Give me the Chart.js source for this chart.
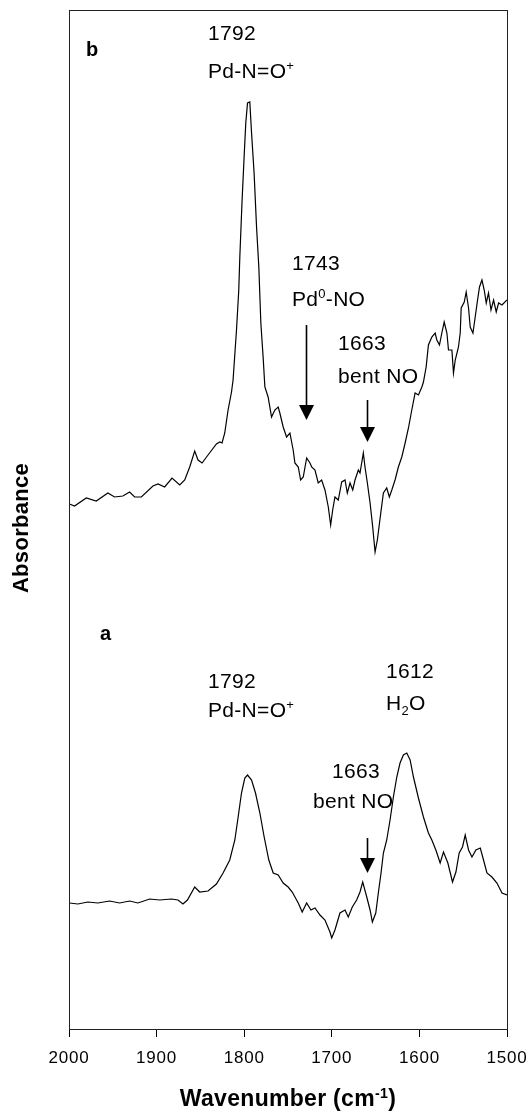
<!DOCTYPE html>
<html><head><meta charset="utf-8">
<script src="https://cdn.jsdelivr.net/npm/chart.js@4"></script>
<style>html,body{margin:0;padding:0;background:#fff}</style>
</head><body>
<canvas id="c" width="528" height="1112"></canvas>
<script>
// Spectrum b (upper trace): wavenumber (cm-1) and absorbance (a.u.)
const wavenumbersB = [1999.4,1993.7,1980.3,1968.9,1955.6,1948.0,1938.5,1930.8,1925.1,1917.4,1904.2,1898.4,1890.8,1882.4,1873.6,1867.9,1862.2,1856.5,1852.7,1848.1,1841.3,1831.7,1827.9,1825.3,1822.2,1818.4,1814.5,1812.7,1808.8,1806.2,1805.0,1802.4,1800.1,1798.2,1796.2,1793.6,1791.6,1788.7,1785.9,1783.3,1781.0,1778.4,1776.4,1772.7,1768.8,1765.0,1761.2,1759.3,1755.5,1751.6,1747.8,1744.1,1742.1,1738.3,1735.6,1732.6,1728.7,1724.9,1723.0,1719.2,1715.5,1711.6,1707.8,1704.0,1701.3,1699.0,1696.4,1692.6,1688.7,1684.9,1682.3,1679.2,1676.1,1673.5,1669.7,1667.8,1664.0,1662.1,1659.4,1656.3,1653.3,1650.6,1648.0,1644.1,1641.1,1637.3,1634.3,1631.5,1627.8,1624.0,1620.1,1616.3,1612.5,1608.7,1604.9,1601.1,1597.2,1595.4,1592.3,1589.7,1585.8,1582.0,1580.1,1577.1,1574.4,1571.7,1568.6,1566.8,1562.9,1561.1,1559.1,1555.4,1553.4,1552.3,1548.8,1546.6,1543.9,1542.0,1538.9,1536.3,1533.6,1531.4,1528.6,1526.0,1523.7,1521.1,1518.3,1515.3,1512.3,1509.6,1505.7,1500.0];
const absorbanceB = [0.525,0.523,0.531,0.528,0.536,0.532,0.533,0.537,0.532,0.532,0.543,0.545,0.542,0.551,0.544,0.549,0.562,0.578,0.569,0.566,0.574,0.585,0.587,0.586,0.596,0.619,0.637,0.649,0.699,0.739,0.772,0.829,0.872,0.906,0.926,0.927,0.896,0.856,0.802,0.762,0.706,0.672,0.642,0.632,0.612,0.619,0.622,0.616,0.602,0.592,0.596,0.579,0.566,0.562,0.549,0.552,0.571,0.566,0.562,0.559,0.546,0.549,0.539,0.522,0.504,0.519,0.532,0.529,0.547,0.549,0.536,0.546,0.539,0.549,0.559,0.556,0.576,0.562,0.546,0.526,0.502,0.477,0.489,0.516,0.536,0.541,0.532,0.539,0.549,0.562,0.572,0.586,0.601,0.619,0.636,0.634,0.642,0.647,0.662,0.684,0.692,0.696,0.689,0.684,0.696,0.707,0.696,0.679,0.679,0.656,0.669,0.682,0.696,0.721,0.727,0.737,0.721,0.702,0.696,0.712,0.729,0.742,0.749,0.739,0.726,0.736,0.719,0.729,0.717,0.726,0.724,0.729];

// Spectrum a (lower trace)
const wavenumbersA = [1999.4,1989.9,1978.5,1967.1,1953.7,1942.2,1930.8,1921.3,1907.9,1896.5,1883.1,1875.6,1869.9,1864.8,1856.5,1850.8,1841.3,1831.7,1824.1,1816.5,1810.7,1806.9,1803.1,1799.3,1796.2,1791.6,1787.1,1782.1,1777.2,1771.9,1766.9,1761.2,1755.5,1749.8,1745.2,1738.3,1733.8,1728.7,1723.8,1719.2,1713.5,1707.8,1702.1,1700.1,1696.4,1690.7,1684.9,1681.2,1676.6,1671.6,1667.8,1664.7,1660.1,1656.3,1653.7,1649.8,1646.9,1643.8,1641.1,1637.3,1633.5,1629.7,1625.8,1622.1,1618.3,1614.4,1610.6,1606.8,1601.1,1595.4,1589.7,1585.8,1581.2,1576.3,1572.5,1567.5,1562.2,1558.3,1554.6,1550.8,1547.7,1543.9,1540.0,1535.5,1530.5,1526.8,1522.9,1517.2,1511.5,1505.7,1500.0];
const absorbanceA = [0.126,0.125,0.127,0.126,0.128,0.126,0.128,0.126,0.130,0.129,0.130,0.129,0.125,0.129,0.142,0.137,0.138,0.145,0.156,0.169,0.189,0.212,0.236,0.251,0.254,0.249,0.236,0.216,0.192,0.169,0.156,0.154,0.146,0.142,0.137,0.126,0.117,0.126,0.119,0.121,0.114,0.109,0.097,0.091,0.099,0.116,0.119,0.112,0.122,0.129,0.137,0.147,0.132,0.119,0.107,0.116,0.136,0.156,0.176,0.189,0.209,0.232,0.252,0.266,0.274,0.276,0.269,0.252,0.231,0.212,0.196,0.189,0.179,0.166,0.177,0.166,0.147,0.157,0.176,0.182,0.194,0.179,0.172,0.179,0.181,0.169,0.156,0.152,0.146,0.136,0.134];

const xTickValues = [2000,1900,1800,1700,1600,1500];
const xTitleParts = [{t:'Wavenumber (cm'},{t:'-1',sup:true},{t:')'}];
const yTitle = 'Absorbance';

// Annotations, anchored in data units (wavenumber, absorbance)
const labelTexts = [
  {wn:1980.6, a:0.973, parts:[{t:'b'}], bold:true},
  {wn:1841.3, a:0.989, parts:[{t:'1792'}]},
  {wn:1841.3, a:0.951, parts:[{t:'Pd-N=O'},{t:'+',sup:true}]},
  {wn:1745.4, a:0.759, parts:[{t:'1743'}]},
  {wn:1745.4, a:0.723, parts:[{t:'Pd'},{t:'0',sup:true},{t:'-NO'}]},
  {wn:1692.9, a:0.679, parts:[{t:'1663'}]},
  {wn:1692.9, a:0.646, parts:[{t:'bent NO'}]},
  {wn:1964.6, a:0.389, parts:[{t:'a'}], bold:true},
  {wn:1841.3, a:0.341, parts:[{t:'1792'}]},
  {wn:1841.3, a:0.312, parts:[{t:'Pd-N=O'},{t:'+',sup:true}]},
  {wn:1638.1, a:0.351, parts:[{t:'1612'}]},
  {wn:1638.1, a:0.319, parts:[{t:'H'},{t:'2',sub:true},{t:'O'}]},
  {wn:1699.8, a:0.251, parts:[{t:'1663'}]},
  {wn:1721.5, a:0.221, parts:[{t:'bent NO'}]}
];
const arrowWn   = [1729.4, 1659.8, 1659.8];
const arrowFrom = [0.704, 0.629, 0.191];
const arrowTo   = [0.609, 0.587, 0.156];

const FONT = '"Liberation Sans", Arial, Helvetica, sans-serif';

function partsWidth(ctx, parts, size, bold){
  let w = 0;
  for (const p of parts){
    const s = (p.sup||p.sub) ? size*0.62 : size;
    ctx.font = (bold?'bold ':'') + s + 'px ' + FONT;
    w += ctx.measureText(p.t).width;
  }
  return w;
}
function drawParts(ctx, x, y, parts, size, bold){
  let cx = x;
  for (const p of parts){
    const s = (p.sup||p.sub) ? size*0.62 : size;
    ctx.font = (bold?'bold ':'') + s + 'px ' + FONT;
    const dy = p.sup ? -size*0.36 : (p.sub ? size*0.22 : 0);
    ctx.fillText(p.t, cx, y+dy);
    cx += ctx.measureText(p.t).width;
  }
}

const decorPlugin = {
  id:'decor',
  beforeDraw(chart){ chart.ctx.letterSpacing = '0.8px'; },
  afterDraw(chart){
    const {ctx, chartArea:ca, scales:{x, y}} = chart;
    ctx.save();
    ctx.letterSpacing = '0.3px';
    // frame
    ctx.strokeStyle = '#222';
    ctx.lineWidth = 1;
    ctx.strokeRect(Math.round(ca.left)+0.5, Math.round(ca.top)+0.5, Math.round(ca.right-ca.left), Math.round(ca.bottom-ca.top));
    ctx.fillStyle = '#000';
    ctx.textAlign = 'left';
    ctx.textBaseline = 'alphabetic';
    // annotation labels
    for (const L of labelTexts){
      drawParts(ctx, x.getPixelForValue(L.wn), y.getPixelForValue(L.a), L.parts, L.bold ? 20 : 21, !!L.bold);
    }
    // arrows
    ctx.strokeStyle = '#000';
    ctx.lineWidth = 1.6;
    for (let i=0;i<arrowWn.length;i++){
      const px = Math.round(x.getPixelForValue(arrowWn[i]))+0.5;
      const y0 = y.getPixelForValue(arrowFrom[i]);
      const y1 = y.getPixelForValue(arrowTo[i]);
      ctx.beginPath(); ctx.moveTo(px, y0); ctx.lineTo(px, y1-12); ctx.stroke();
      ctx.beginPath(); ctx.moveTo(px-7.5, y1-15); ctx.lineTo(px+7.5, y1-15); ctx.lineTo(px, y1); ctx.closePath(); ctx.fill();
    }
    // x title
    const ts = 23;
    const tw = partsWidth(ctx, xTitleParts, ts, true);
    drawParts(ctx, (ca.left+ca.right)/2 - tw/2, 1106, xTitleParts, ts, true);
    // y title
    ctx.save();
    ctx.translate(28, 528);
    ctx.rotate(-Math.PI/2);
    ctx.font = 'bold 22px ' + FONT;
    ctx.textAlign = 'center';
    ctx.fillText(yTitle, 0, 0);
    ctx.restore();
    ctx.restore();
  }
};

new Chart(document.getElementById('c'), {
  type:'line',
  data:{datasets:[
    {data: wavenumbersB.map((v,i)=>({x:v, y:absorbanceB[i]})), borderColor:'#000', borderWidth:1.2, pointRadius:0, tension:0, fill:false},
    {data: wavenumbersA.map((v,i)=>({x:v, y:absorbanceA[i]})), borderColor:'#000', borderWidth:1.2, pointRadius:0, tension:0, fill:false}
  ]},
  options:{
    responsive:false, animation:false, devicePixelRatio:1,
    layout:{padding:{left:69, right:21, top:10, bottom:0}},
    plugins:{legend:{display:false}, tooltip:{enabled:false}},
    scales:{
      x:{type:'linear', reverse:true, min:1500, max:2000,
        afterBuildTicks: s => { s.ticks = xTickValues.map(v=>({value:v})); },
        ticks:{color:'#000', font:{family:FONT, size:17}, padding:11, maxRotation:0, autoSkip:false, callback: v => String(v)},
        grid:{display:true, drawOnChartArea:false, drawTicks:true, tickLength:8, color:'#000', lineWidth:1},
        border:{display:true, color:'#222', width:1},
        afterFit: s => { s.height = 83; s.paddingLeft = 0; s.paddingRight = 0; }
      },
      y:{display:false, min:0, max:1.019}
    }
  },
  plugins:[decorPlugin]
});
</script>
</body></html>
